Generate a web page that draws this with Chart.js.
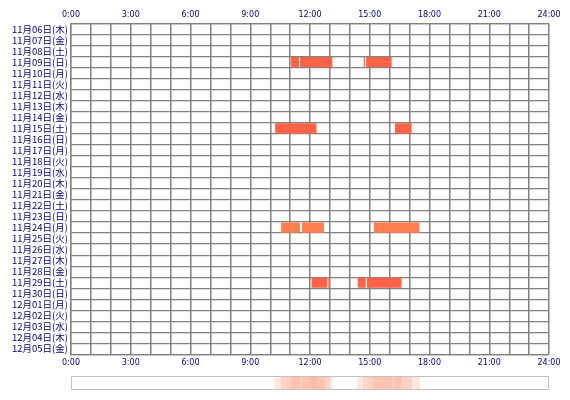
<!DOCTYPE html>
<html>
<head>
<meta charset="utf-8">
<script src="https://cdn.jsdelivr.net/npm/chart.js@4.4.1/dist/chart.umd.min.js"></script>
<style>
  body { margin: 0; background: #fff; }
  #main { position: absolute; left: 0; top: 0; width: 570px; height: 372px; }
  #strip { position: absolute; left: 0; top: 372px; width: 570px; height: 22px; }
</style>
</head>
<body>
<div id="main"><canvas id="timeChart"></canvas></div>
<div id="strip"><canvas id="stripChart"></canvas></div>
<script>
var days = [
  "11月06日(木)", "11月07日(金)", "11月08日(土)", "11月09日(日)", "11月10日(月)",
  "11月11日(火)", "11月12日(水)", "11月13日(木)", "11月14日(金)", "11月15日(土)",
  "11月16日(日)", "11月17日(月)", "11月18日(火)", "11月19日(水)", "11月20日(木)",
  "11月21日(金)", "11月22日(土)", "11月23日(日)", "11月24日(月)", "11月25日(火)",
  "11月26日(水)", "11月27日(木)", "11月28日(金)", "11月29日(土)", "11月30日(日)",
  "12月01日(月)", "12月02日(火)", "12月03日(水)", "12月04日(木)", "12月05日(金)"
];

// activity segments: day label, start hour, end hour
var segDays   = ["11月09日(日)", "11月09日(日)", "11月09日(日)", "11月09日(日)",
                 "11月15日(土)", "11月15日(土)",
                 "11月24日(月)", "11月24日(月)", "11月24日(月)",
                 "11月29日(土)", "11月29日(土)", "11月29日(土)", "11月29日(土)"];
var segStart  = [11.05, 11.5, 14.7, 14.82, 10.25, 16.27, 10.55, 11.6, 15.2, 12.08, 12.92, 14.4, 14.86];
var segEnd    = [11.45, 13.12, 14.76, 16.1, 12.33, 17.1, 11.5, 12.7, 17.5, 12.87, 13.0, 14.8, 16.6];
var hourTicks = [0, 3, 6, 9, 12, 15, 18, 21, 24];

var navy = "#000080";
var gridGray = "#808080";

function segColor(day) {
  return day === "11月24日(月)" ? "#FF7F50" : "#FF6347";
}

var datasets = segDays.map(function (d, i) {
  return {
    data: [{ x: [segStart[i], segEnd[i]], y: d }],
    backgroundColor: segColor(d),
    borderWidth: 0,
    barPercentage: 0.92,
    categoryPercentage: 1
  };
});

function hourLabel(v) {
  return hourTicks.indexOf(v) >= 0 ? v + ":00" : "";
}

var xAxis = function (pos) {
  return {
    type: "linear",
    position: pos,
    min: 0,
    max: 24,
    ticks: {
      stepSize: 1,
      autoSkip: false,
      maxRotation: 0,
      color: navy,
      font: { family: "DejaVu Sans", size: 8 },
      padding: 4,
      callback: hourLabel
    },
    grid: { color: gridGray, lineWidth: 1.3, drawTicks: false },
    border: { color: gridGray, width: 1.3 }
  };
};

new Chart(document.getElementById("timeChart"), {
  type: "bar",
  data: { labels: days, datasets: datasets },
  options: {
    indexAxis: "y",
    responsive: true,
    maintainAspectRatio: false,
    animation: false,
    layout: { padding: { left: 0, right: 21, top: 6, bottom: 0 } },
    plugins: { legend: { display: false }, tooltip: { enabled: false } },
    scales: {
      x: xAxis("bottom"),
      x2: xAxis("top"),
      y: {
        type: "category",
        labels: days,
        stacked: true,
        ticks: {
          color: navy,
          font: { family: "Noto Sans CJK JP", size: 9.5 },
          padding: 3,
          autoSkip: false
        },
        grid: { color: gridGray, lineWidth: 1.3, offset: true, drawTicks: false },
        border: { color: gridGray, width: 1.3 },
        afterFit: function (s) { s.width = 71; }
      }
    }
  }
});

// summary strip: each segment drawn translucent so overlaps darken
var stripSets = segDays.map(function (d, i) {
  return {
    data: [{ x: [segStart[i], segEnd[i]], y: "all" }],
    backgroundColor: "rgba(255,140,105,0.22)",
    borderWidth: 0,
    barPercentage: 1,
    categoryPercentage: 1
  };
});

var stripBorder = {
  id: "stripBorder",
  afterDraw: function (chart) {
    var a = chart.chartArea, c = chart.ctx;
    c.save();
    c.strokeStyle = "#c0c0c0";
    c.lineWidth = 1;
    c.strokeRect(a.left + 0.5, a.top + 0.5, a.right - a.left - 1, a.bottom - a.top - 1);
    c.restore();
  }
};

new Chart(document.getElementById("stripChart"), {
  type: "bar",
  data: { labels: ["all"], datasets: stripSets },
  options: {
    indexAxis: "y",
    responsive: true,
    maintainAspectRatio: false,
    animation: false,
    layout: { padding: { left: 71, right: 21, top: 4, bottom: 4 } },
    plugins: { legend: { display: false }, tooltip: { enabled: false } },
    scales: {
      x: { type: "linear", min: 0, max: 24, display: false },
      y: { type: "category", stacked: true, display: false }
    }
  },
  plugins: [stripBorder]
});
</script>
</body>
</html>
